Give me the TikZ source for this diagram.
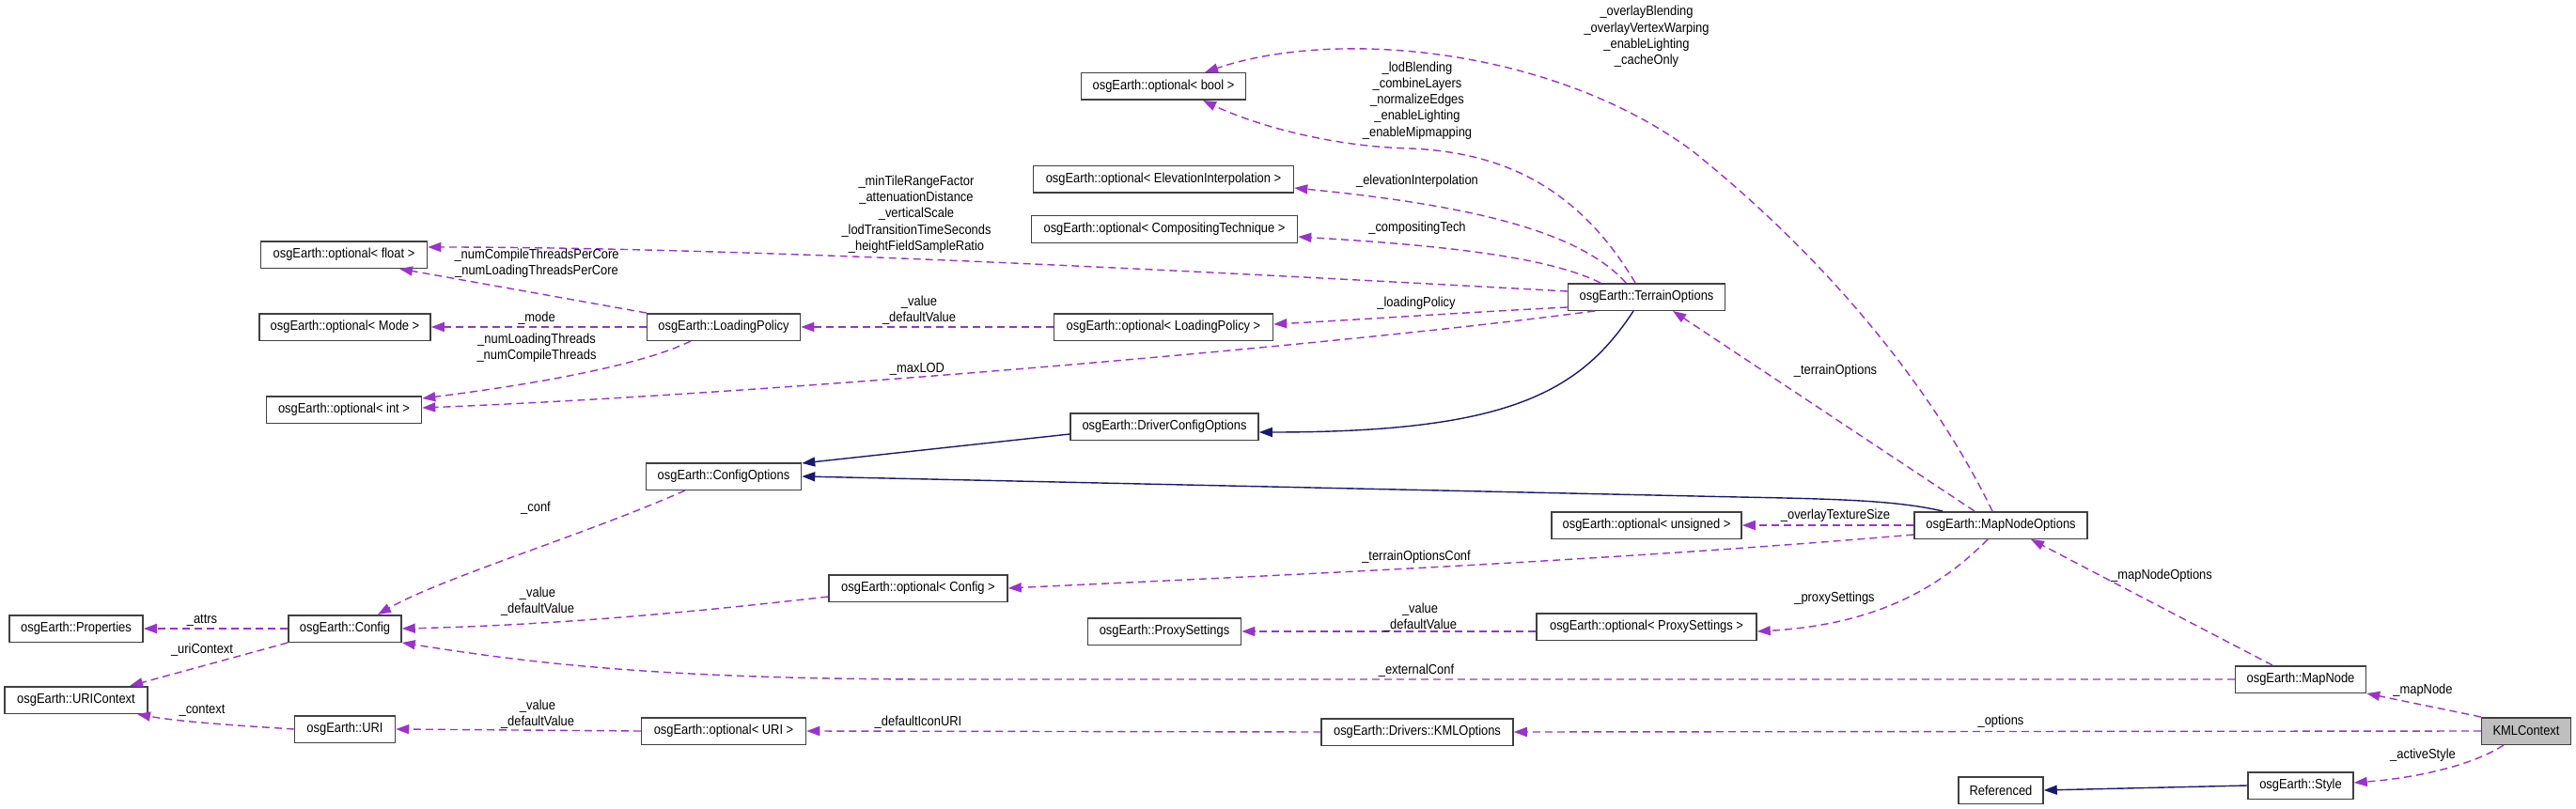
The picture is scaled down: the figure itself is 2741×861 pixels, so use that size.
\documentclass[tikz,border=0pt]{standalone}
\usepackage{fontspec}
\newfontfamily\dxfam[FakeStretch=0.89]{Liberation Sans}
\usepackage{tikz}
\usetikzlibrary{arrows.meta,positioning}
\definecolor{usecol}{HTML}{9A32CD}
\definecolor{inhcol}{HTML}{191970}
\definecolor{maingray}{HTML}{BFBFBF}

\begin{document}
\begin{tikzpicture}[
    x=1pt, y=-1pt,
    cls/.style={draw=black!75, line width=1.5pt, fill=white, minimum height=28.5pt, inner sep=0pt, font={\dxfam\fontsize{14.5}{17.25}\selectfont}},
    maincls/.style={cls, fill=maingray},
    lbl/.style={font={\dxfam\fontsize{14.5}{17.25}\selectfont}, align=center, inner sep=0pt},
    useedge/.style={usecol, line width=1.4pt, dash pattern=on 8pt off 5pt, -{Triangle[length=14pt,width=10pt]}},
    inheritedge/.style={inhcol, line width=1.4pt, -{Triangle[length=14pt,width=10pt]}}
]
\useasboundingbox (0,0) rectangle (2741,861);

% Column 1
\node[cls, minimum width=142pt] (props) at (81,669) {osgEarth::Properties};
\node[cls, minimum width=152pt] (uriCtx) at (81,745) {osgEarth::URIContext};

% Column 2
\node[cls, minimum width=177pt] (optFloat) at (366,271) {osgEarth::optional< float >};
\node[cls, minimum width=182pt] (optMode) at (367,348) {osgEarth::optional< Mode >};
\node[cls, minimum width=165pt] (optInt) at (366,436) {osgEarth::optional< int >};
\node[cls, minimum width=120pt] (config) at (367,669) {osgEarth::Config};
\node[cls, minimum width=107pt] (uri) at (367,776) {osgEarth::URI};

% Column 3
\node[cls, minimum width=163pt] (loadPol) at (770,348) {osgEarth::LoadingPolicy};
\node[cls, minimum width=165pt] (cfgOpts) at (770,507) {osgEarth::ConfigOptions};
\node[cls, minimum width=175pt] (optUri) at (770,778) {osgEarth::optional< URI >};
\node[cls, minimum width=190pt] (optCfg) at (977,626) {osgEarth::optional< Config >};

% Column 4
\node[cls, minimum width=175pt] (optBool) at (1238,92) {osgEarth::optional< bool >};
\node[cls, minimum width=277pt] (optElev) at (1238,191) {osgEarth::optional< ElevationInterpolation >};
\node[cls, minimum width=283pt] (optComp) at (1239,244) {osgEarth::optional< CompositingTechnique >};
\node[cls, minimum width=233pt] (optLoad) at (1238,348) {osgEarth::optional< LoadingPolicy >};
\node[cls, minimum width=200pt] (drvCfg) at (1239,454) {osgEarth::DriverConfigOptions};
\node[cls, minimum width=163pt] (proxy) at (1239,672) {osgEarth::ProxySettings};
\node[cls, minimum width=204pt] (kmlOpts) at (1508,779) {osgEarth::Drivers::KMLOptions};

% Column 5
\node[cls, minimum width=167pt] (terrain) at (1752,316) {osgEarth::TerrainOptions};
\node[cls, minimum width=202pt] (optUns) at (1752,559) {osgEarth::optional< unsigned >};
\node[cls, minimum width=234pt] (optProxy) at (1752,667) {osgEarth::optional< ProxySettings >};

% Right side
\node[cls, minimum width=184pt] (mapNodeOpts) at (2129,559) {osgEarth::MapNodeOptions};
\node[cls, minimum width=90pt] (referenced) at (2129,841) {Referenced};
\node[cls, minimum width=139pt] (mapNode) at (2448,723) {osgEarth::MapNode};
\node[cls, minimum width=112pt] (style) at (2448,836) {osgEarth::Style};
\node[maincls, minimum width=95pt] (kmlCtx) at (2688,778) {KMLContext};

% Inheritance
\draw[inheritedge] ([xshift=-14pt]terrain.south) .. controls (1680,420) and (1600,460) .. ([yshift=-6pt]drvCfg.east);
\draw[inheritedge] ([yshift=-8pt]drvCfg.west) -- ([yshift=14pt]cfgOpts.east);
\draw[inheritedge] ([xshift=-62pt]mapNodeOpts.north) .. controls (2020,533) and (1960,531) .. (1850,529) -- (cfgOpts.east);
\draw[inheritedge] (style.west) -- (referenced.east);

% Members of TerrainOptions
\draw[useedge] ([xshift=-12pt]terrain.north) .. controls (1680,200) and (1600,162) .. (1500,158)
    .. controls (1420,156) and (1340,135) .. ([xshift=42pt]optBool.south);
\draw[useedge] ([xshift=-22pt]terrain.north) .. controls (1680,245) and (1560,218) .. ([yshift=-9pt]optElev.east);
\draw[useedge] ([xshift=-49pt]terrain.north) .. controls (1650,275) and (1550,262) .. ([yshift=-8pt]optComp.east);
\draw[useedge] ([yshift=6pt]terrain.west) .. controls (1300,290) and (800,263) .. ([yshift=8pt]optFloat.east);
\draw[useedge] ([yshift=-11pt]terrain.west) .. controls (1550,333) and (1450,340) .. ([yshift=3pt]optLoad.east);
\draw[useedge] ([xshift=-55pt]terrain.south) .. controls (1400,370) and (800,420) .. ([yshift=2pt]optInt.east);

% Members of LoadingPolicy
\draw[useedge] (optLoad.west) -- (loadPol.east);
\draw[useedge] (loadPol.north west) -- ([xshift=59pt]optFloat.south);
\draw[useedge] (loadPol.west) -- (optMode.east);
\draw[useedge] ([xshift=-35pt]loadPol.south) .. controls (680,390) and (560,410) .. ([yshift=12pt]optInt.east);

% Members of MapNodeOptions
\draw[useedge] ([xshift=-9pt]mapNodeOpts.north) .. controls (2060,420) and (1950,280) .. (1800,160)
    .. controls (1650,50) and (1420,30) .. ([xshift=44pt]optBool.north);
\draw[useedge] ([xshift=-28pt]mapNodeOpts.north) -- ([xshift=28pt]terrain.south);
\draw[useedge] (mapNodeOpts.west) -- (optUns.east);
\draw[useedge] ([yshift=-10pt]mapNodeOpts.west) .. controls (1700,598) and (1300,615) .. (optCfg.east);
\draw[useedge] ([xshift=-14pt]mapNodeOpts.south) .. controls (2060,630) and (1990,665) .. ([yshift=-5pt]optProxy.east);
\draw[useedge] ([yshift=-5pt]optProxy.west) -- (proxy.east);

% Members of MapNode and KMLContext
\draw[useedge] (mapNode.west) -- (1000,723) .. controls (700,723) and (560,705) .. (config.south east);
\draw[useedge] ([xshift=-30pt]mapNode.north) -- ([xshift=32pt]mapNodeOpts.south);
\draw[useedge] (kmlCtx.north west) -- (mapNode.south east);
\draw[useedge] (kmlCtx.west) -- (kmlOpts.east);
\draw[useedge] ([xshift=-24pt]kmlCtx.south) .. controls (2630,815) and (2570,828) .. ([yshift=3pt]style.east);
\draw[useedge] (kmlOpts.west) -- (optUri.east);

% Members of Config, URI and their options
\draw[useedge] ([yshift=-9pt]optCfg.west) .. controls (750,650) and (600,665) .. (config.east);
\draw[useedge] ([xshift=-41pt]cfgOpts.south) .. controls (620,570) and (470,615) .. ([xshift=35pt]config.north);
\draw[useedge] (config.west) -- (props.east);
\draw[useedge] (config.south west) -- ([xshift=57pt]uriCtx.north);
\draw[useedge] (uri.west) .. controls (250,772) and (190,768) .. ([xshift=65pt]uriCtx.south);
\draw[useedge] (optUri.west) -- (uri.east);

% Edge labels
\node[lbl] (lPerCore) at (571,280) {\_numCompileThreadsPerCore\\\_numLoadingThreadsPerCore};
\node[lbl] (lMode) at (571,339) {\_mode};
\node[lbl] (lThreads) at (571,370) {\_numLoadingThreads\\\_numCompileThreads};
\node[lbl] (lTerrFloat) at (975,228) {\_minTileRangeFactor\\\_attenuationDistance\\\_verticalScale\\\_lodTransitionTimeSeconds\\\_heightFieldSampleRatio};
\node[lbl] (lLoadVal) at (978,330) {\_value\\\_defaultValue};
\node[lbl] (lMaxLod) at (976,393) {\_maxLOD};
\node[lbl] (lConf) at (570,541) {\_conf};
\node[lbl] (lCfgVal) at (572,640) {\_value\\\_defaultValue};
\node[lbl] (lAttrs) at (215,660) {\_attrs};
\node[lbl] (lUriCtx) at (215,692) {\_uriContext};
\node[lbl] (lContext) at (215,756) {\_context};
\node[lbl] (lUriVal) at (572,760) {\_value\\\_defaultValue};
\node[lbl] (lIcon) at (977,769) {\_defaultIconURI};
\node[lbl] (lBool) at (1508,107) {\_lodBlending\\\_combineLayers\\\_normalizeEdges\\\_enableLighting\\\_enableMipmapping};
\node[lbl] (lElev) at (1508,193) {\_elevationInterpolation};
\node[lbl] (lComp) at (1508,243) {\_compositingTech};
\node[lbl] (lLoadPol) at (1507,323) {\_loadingPolicy};
\node[lbl] (lTocConf) at (1507,593) {\_terrainOptionsConf};
\node[lbl] (lProxyVal) at (1511,657) {\_value\\\_defaultValue};
\node[lbl] (lExtConf) at (1507,714) {\_externalConf};
\node[lbl] (lOverlay) at (1752,39) {\_overlayBlending\\\_overlayVertexWarping\\\_enableLighting\\\_cacheOnly};
\node[lbl] (lTerrOpts) at (1953,395) {\_terrainOptions};
\node[lbl] (lTexSize) at (1953,549) {\_overlayTextureSize};
\node[lbl] (lProxy) at (1952,637) {\_proxySettings};
\node[lbl] (lMapNodeOpts) at (2300,613) {\_mapNodeOptions};
\node[lbl] (lMapNode) at (2578,735) {\_mapNode};
\node[lbl] (lOptions) at (2129,768) {\_options};
\node[lbl] (lActive) at (2578,804) {\_activeStyle};

\end{tikzpicture}
\end{document}
